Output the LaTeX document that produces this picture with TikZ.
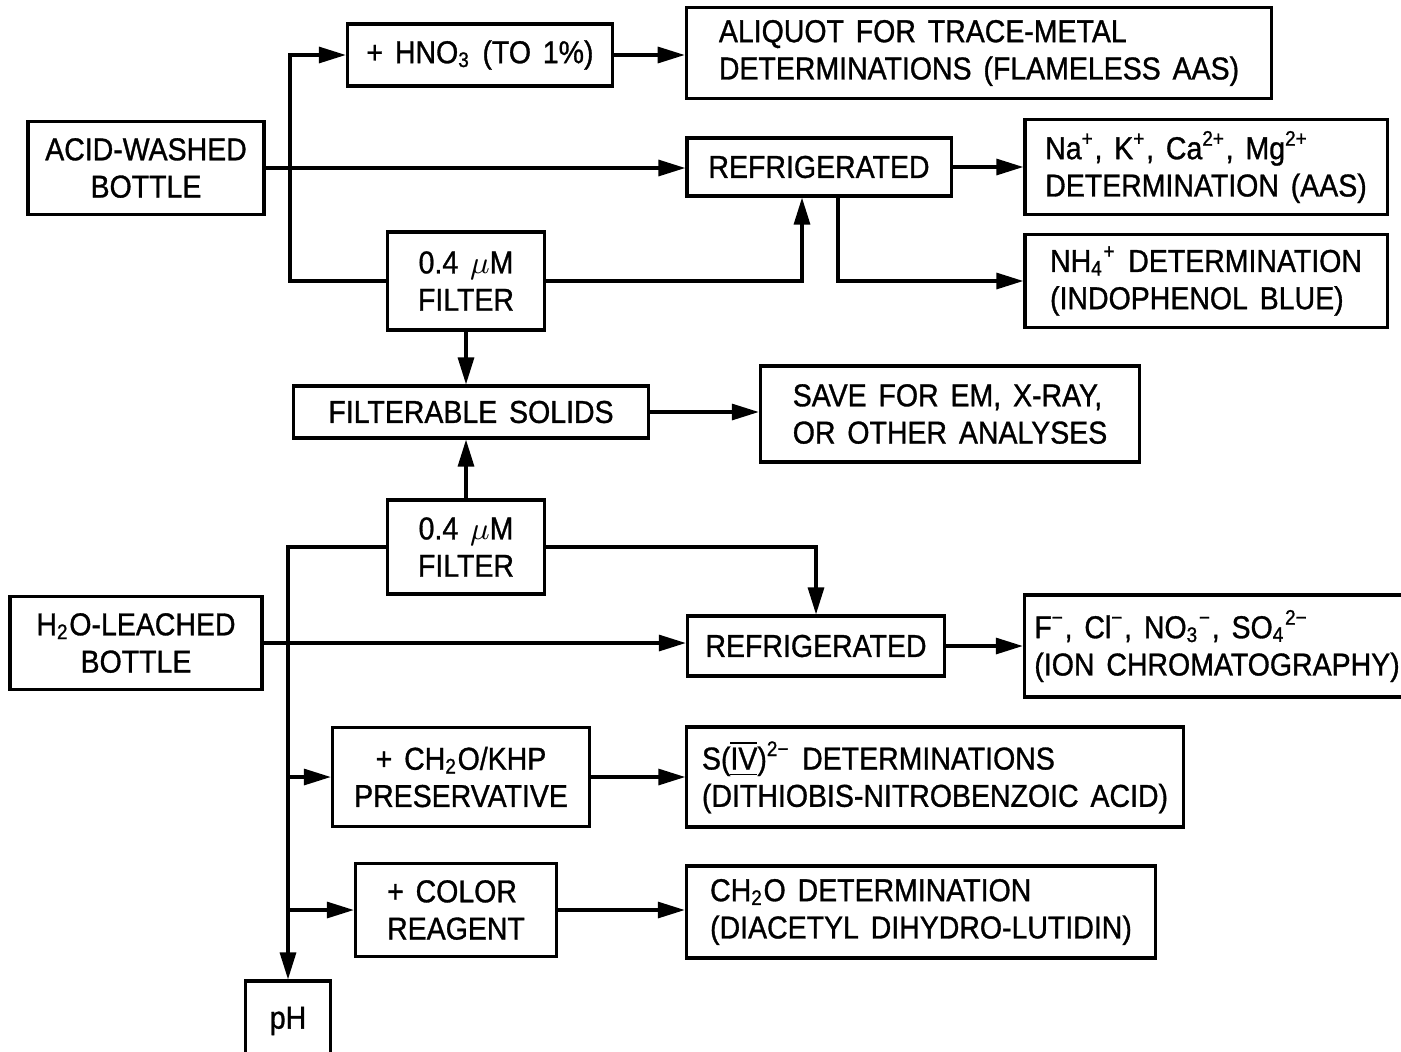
\documentclass[tikz,border=0pt]{standalone}
\usepackage{fontspec}
\setmainfont{Liberation Sans}[FakeStretch=0.9, FakeBold=1, WordSpace=1.5]
\usetikzlibrary{arrows.meta}
\newcommand{\lo}[1]{\textsubscript{#1}}
\newcommand{\hi}[1]{\textsuperscript{#1}}
\begin{document}
\begin{tikzpicture}[x=0.01cm,y=-0.01cm,
    font=\fontsize{9}{10.6}\selectfont,
    box/.style={draw, line width=0.9pt, inner sep=0pt, align=center},
    lbox/.style={box, align=left},
    arr/.style={-{Triangle[length=0.27cm,width=0.16cm]}, line width=0.9pt}]
  \useasboundingbox (0,0) rectangle (1401,1051);

  % acid-washed bottle
  \node[box, minimum width=2.36cm, minimum height=0.93cm] (acid) at (146,168) {ACID-WASHED\\BOTTLE};
  \node[box, minimum width=2.65cm, minimum height=0.62cm] (hno) at (480,55) {+ HNO\lo{3} (TO 1\%)};
  \node[lbox, minimum width=5.85cm, minimum height=0.91cm] (aliq) at (979,53) {ALIQUOT FOR TRACE-METAL\\DETERMINATIONS (FLAMELESS AAS)};
  \node[box, minimum width=2.64cm, minimum height=0.58cm] (ref1) at (819,167) {REFRIGERATED};
  \node[lbox, minimum width=3.62cm, minimum height=0.95cm] (cat) at (1206,167) {Na\hi{+}, K\hi{+}, Ca\hi{2+}, Mg\hi{2+}\\DETERMINATION (AAS)};
  \node[lbox, minimum width=3.62cm, minimum height=0.93cm] (nh) at (1206,281) {NH\lo{4}\hi{+} DETERMINATION\\(INDOPHENOL BLUE)};
  \node[box, minimum width=1.57cm, minimum height=0.98cm] (fil1) at (466,281) {0.4 $\mu$M\\FILTER};

  % solids
  \node[box, minimum width=3.54cm, minimum height=0.52cm] (sol) at (471,412) {FILTERABLE SOLIDS};
  \node[lbox, minimum width=3.79cm, minimum height=0.96cm] (save) at (950,414) {SAVE FOR EM, X-RAY,\\OR OTHER ANALYSES};

  % water-leached bottle
  \node[box, minimum width=1.57cm, minimum height=0.94cm] (fil2) at (466,547) {0.4 $\mu$M\\FILTER};
  \node[box, minimum width=2.52cm, minimum height=0.93cm] (h2o) at (136,643) {H\lo{2}O-LEACHED\\BOTTLE};
  \node[box, minimum width=2.57cm, minimum height=0.6cm] (ref2) at (816,646) {REFRIGERATED};
  \node[lbox, minimum width=3.85cm, minimum height=1.02cm] (an) at (1217,646) {F\hi{−}, Cl\hi{−}, NO\lo{3}\hi{−}, SO\lo{4}\hi{2−}\\(ION CHROMATOGRAPHY)};
  \node[box, minimum width=2.57cm, minimum height=0.99cm] (khp) at (461,777) {+ CH\lo{2}O/KHP\\PRESERVATIVE};
  \node[lbox, minimum width=4.96cm, minimum height=1.0cm] (siv) at (935,777) {S(\ensuremath{\overline{\underline{\hbox{IV}}}})\hi{2−} DETERMINATIONS\\(DITHIOBIS-NITROBENZOIC ACID)};
  \node[lbox, minimum width=2.01cm, minimum height=0.93cm] (col) at (456,910) {+ COLOR\\REAGENT};
  \node[lbox, minimum width=4.69cm, minimum height=0.92cm] (ch) at (921,912) {CH\lo{2}O DETERMINATION\\(DIACETYL DIHYDRO-LUTIDIN)};
  \node[box, minimum width=0.85cm, minimum height=0.8cm] (ph) at (288,1021) {pH};

  \coordinate (tr) at (290,0);

  % upper connectors
  \draw[arr] (acid.east) -- (acid.east -| ref1.west);
  \draw[arr] (fil1.west) -- (fil1.west -| tr) |- (hno.west);
  \draw[arr] (hno.east) -- (hno.east -| aliq.west);
  \draw[arr] (fil1.east) -| ([xshift=-0.17cm]ref1.south);
  \draw[arr] ([xshift=0.19cm]ref1.south) |- (nh.west);
  \draw[arr] (ref1.east) -- (ref1.east -| cat.west);
  \draw[arr] (fil1.south) -- (fil1.south |- sol.north);
  \draw[arr] (fil2.north) -- (fil2.north |- sol.south);
  \draw[arr] (sol.east) -- (sol.east -| save.west);

  % lower connectors
  \draw[arr] (fil2.west) -| (ph.north);
  \draw[arr] (fil2.east) -| (ref2.north);
  \draw[arr] (h2o.east) -- (h2o.east -| ref2.west);
  \draw[arr] (ref2.east) -- (ref2.east -| an.west);
  \draw[arr] (khp.west -| ph.north) -- (khp.west);
  \draw[arr] (col.west -| ph.north) -- (col.west);
  \draw[arr] (khp.east) -- (khp.east -| siv.west);
  \draw[arr] (col.east) -- (col.east -| ch.west);
\end{tikzpicture}
\end{document}
